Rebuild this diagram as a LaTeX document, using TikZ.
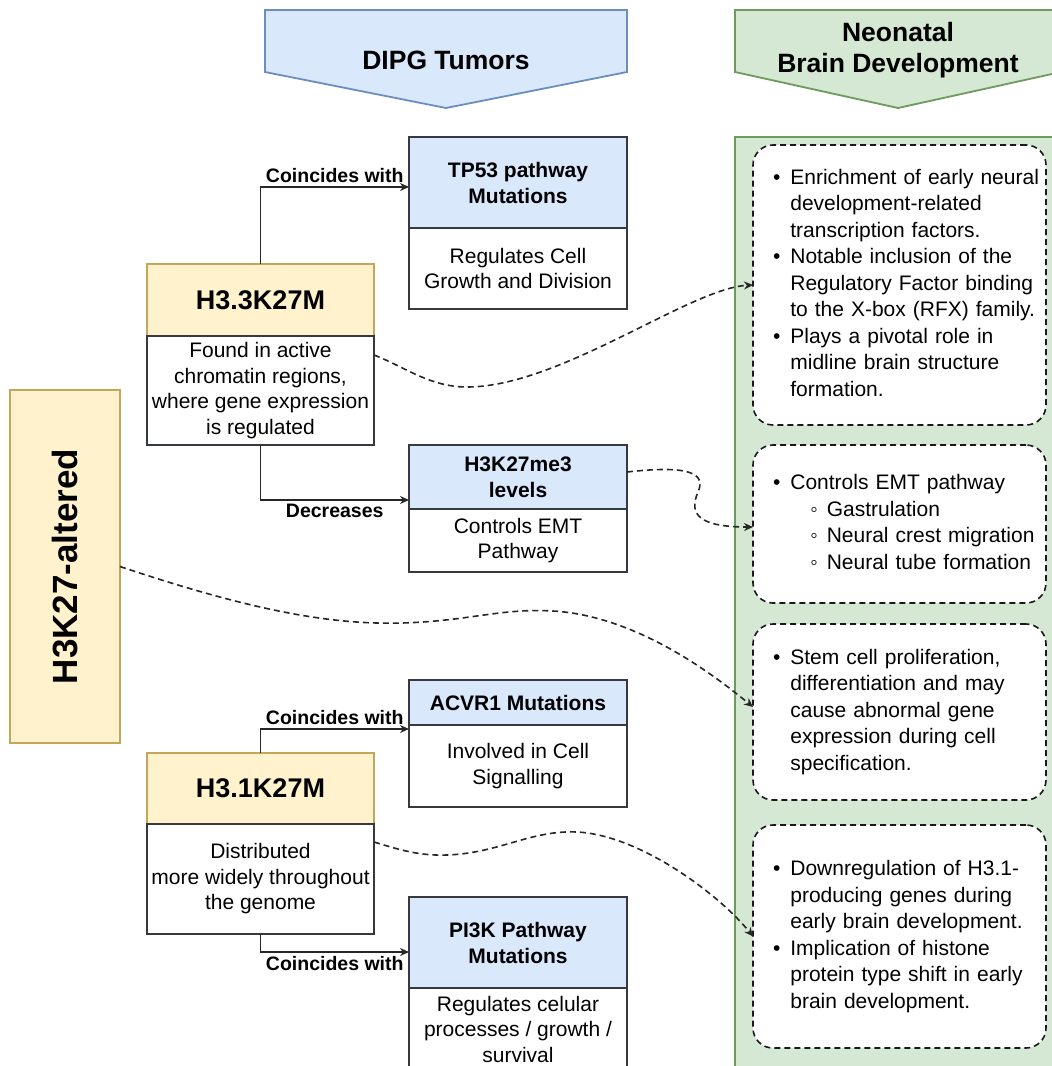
\documentclass[tikz,border=0pt]{standalone}
\usepackage{fontspec}
\setmainfont{Liberation Sans}
\usetikzlibrary{arrows.meta}

\definecolor{bluefill}{HTML}{DAE8FC}
\definecolor{blueline}{HTML}{6C8EBF}
\definecolor{yelfill}{HTML}{FFF2CC}
\definecolor{yelline}{HTML}{C4A65A}
\definecolor{grnfill}{HTML}{D5E8D4}
\definecolor{grnline}{HTML}{6F9A5E}
\definecolor{boxline}{HTML}{36393D}

\newcommand{\txtfont}{\fontsize{21}{25.5}\selectfont}
\newcommand{\notefont}{\fontsize{21}{26.5}\selectfont}
\newcommand{\bul}{\textbullet}
\newcommand{\subitm}[1]{\hspace*{20pt}◦\hspace{9pt}#1}

\begin{document}
\begin{tikzpicture}[x=1pt, y=-1pt,
  box/.style={draw=boxline, line width=1.8pt, outer sep=0pt, inner sep=0pt, align=center},
  hdr/.style={box, fill=bluefill, minimum width=218pt, anchor=north west, font=\bfseries\fontsize{21}{26}\selectfont},
  mut/.style={box, fill=yelfill, draw=yelline, minimum width=227pt, anchor=north west, font=\bfseries\fontsize{27}{32}\selectfont},
  txt/.style={box, fill=white, minimum width=218pt, anchor=north, font=\txtfont},
  note/.style={draw=black!90, line width=1.6pt, dash pattern=on 6pt off 4pt, rounded corners=20pt, fill=white, minimum width=293pt, text width=253pt, inner xsep=20pt, inner ysep=0pt, outer sep=0pt, align=left, anchor=north west, font=\notefont},
  big/.style={font=\bfseries\fontsize{26.5}{31}\selectfont, align=center},
  lbl/.style={font=\bfseries\fontsize{19.5}{23}\selectfont},
  flow/.style={draw=black!85, line width=1.7pt, -{Stealth[length=9pt,width=8pt]}},
  link/.style={flow, line width=1.6pt, dash pattern=on 6pt off 4pt}]

\useasboundingbox (0,0) rectangle (1052,1066);

% Headings
\draw[fill=bluefill, draw=blueline, line width=1.8pt] (265,10) -- (627,10) -- (627,72) -- (446,108) -- (265,72) -- cycle;
\node[big] (dipg) at (446,60) {DIPG Tumors};

\draw[fill=grnfill, draw=grnline, line width=1.8pt] (735,10) -- (1061,10) -- (1061,72) -- (898,108) -- (735,72) -- cycle;
\node[big] (neo) at (898,50) {Neonatal\\Brain Development};

% H3K27-altered
\node[box, fill=yelfill, draw=yelline, minimum width=353pt, minimum height=110pt, rotate=90,
      font=\bfseries\fontsize{35}{40}\selectfont] (altered) at (65,566.5) {H3K27-altered};

% H3.3K27M branch
\node[mut, minimum height=72pt] (h33) at (147,264) {H3.3K27M};
\node[txt, minimum width=227pt, minimum height=109pt] (h33txt) at (h33.south) {Found in active\\chromatin regions,\\where gene expression\\is regulated};

\node[hdr, minimum height=91pt] (tp53) at (409,137) {TP53 pathway\\Mutations};
\node[txt, minimum height=81pt] (tp53txt) at (tp53.south) {Regulates Cell\\Growth and Division};

\node[hdr, minimum height=64pt] (me3) at (409,445) {H3K27me3\\levels};
\node[txt, minimum height=63pt] (me3txt) at (me3.south) {Controls EMT\\Pathway};

% H3.1K27M branch
\node[mut, minimum height=71pt] (h31) at (147,753) {H3.1K27M};
\node[txt, minimum width=227pt, minimum height=110pt] (h31txt) at (h31.south) {Distributed\\more widely throughout\\the genome};

\node[hdr, minimum height=45pt] (acvr1) at (409,680) {ACVR1 Mutations};
\node[txt, minimum height=82pt] (acvr1txt) at (acvr1.south) {Involved in Cell\\Signalling};

\node[hdr, minimum height=91pt] (pi3k) at (409,897) {PI3K Pathway\\Mutations};
\node[txt, minimum height=82pt] (pi3ktxt) at (pi3k.south) {Regulates celular\\processes / growth /\\survival};

% Neonatal panel
\draw[fill=grnfill, draw=grnline, line width=1.8pt] (735,137) rectangle (1061,1080);

\node[note, minimum height=280pt] (enrich) at (753,145) {%
\begin{tabular}{@{}l@{\hspace{10pt}}l@{}}
\bul & Enrichment of early neural\\
 & development-related\\
 & transcription factors.\\
\bul & Notable inclusion of the\\
 & Regulatory Factor binding\\
 & to the X-box (RFX) family.\\
\bul & Plays a pivotal role in\\
 & midline brain structure\\
 & formation.
\end{tabular}};

\node[note, minimum height=158pt] (emt) at (753,445) {%
\begin{tabular}{@{}l@{\hspace{10pt}}l@{}}
\bul & Controls EMT pathway\\
 & \subitm{Gastrulation}\\
 & \subitm{Neural crest migration}\\
 & \subitm{Neural tube formation}
\end{tabular}};

\node[note, minimum height=176pt] (stem) at (753,624) {%
\begin{tabular}{@{}l@{\hspace{10pt}}l@{}}
\bul & Stem cell proliferation,\\
 & differentiation and may\\
 & cause abnormal gene\\
 & expression during cell\\
 & specification.
\end{tabular}};

\node[note, minimum height=223pt] (down) at (753,825) {%
\begin{tabular}{@{}l@{\hspace{10pt}}l@{}}
\bul & Downregulation of H3.1-\\
 & producing genes during\\
 & early brain development.\\
\bul & Implication of histone\\
 & protein type shift in early\\
 & brain development.
\end{tabular}};

% Connections
\draw[flow] (h33.north) |- node[lbl, above, pos=0.75] {Coincides with} ([yshift=-4.5pt]tp53.west);
\draw[flow] (h33txt.south) |- node[lbl, below, pos=0.75] {Decreases} ([yshift=-23pt]me3.west);
\draw[flow] (h31.north) |- node[lbl, above, pos=0.75] {Coincides with} ([yshift=-26.5pt]acvr1.west);
\draw[flow] (h31txt.south) |- node[lbl, below, pos=0.75] {Coincides with} ([yshift=-9.5pt]pi3k.west);

% Links to brain development
\draw[link] ([yshift=35.5pt]h33txt.east) .. controls (405,367) and (430,387) .. (467,387)
  .. controls (560,387) and (690,288) .. (enrich.west);
\draw[link] ([yshift=5pt]me3.east) .. controls (680,466) and (708,470) .. (698,492)
  .. controls (688,515) and (700,527) .. ([yshift=-3pt]emt.west);
\draw[link] (altered.south) .. controls (250,610) and (330,625) .. (402,623)
  .. controls (470,621) and (500,608) .. (553,611)
  .. controls (640,616) and (720,680) .. ([yshift=5pt]stem.west);
\draw[link] ([yshift=37pt]h31txt.east) .. controls (400,850) and (420,856) .. (447,855)
  .. controls (500,853) and (530,830) .. (577,832)
  .. controls (640,835) and (720,895) .. (down.west);

\end{tikzpicture}
\end{document}
